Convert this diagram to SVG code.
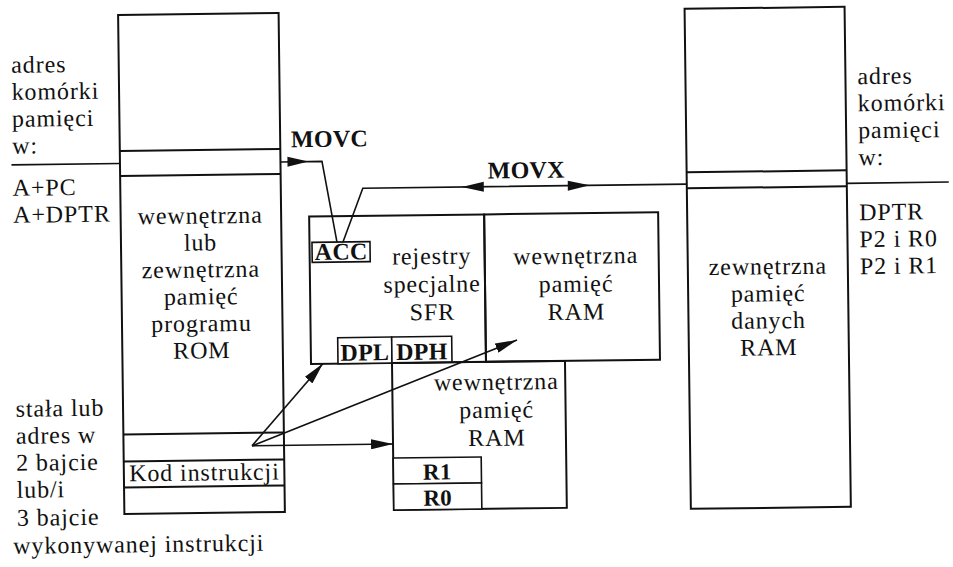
<svg xmlns="http://www.w3.org/2000/svg" width="953" height="567" viewBox="0 0 953 567">
<style>
text{font-family:"Liberation Serif","Times New Roman",serif;font-size:24px;letter-spacing:0.9px;fill:#111}
.b{font-weight:bold;font-size:24px;letter-spacing:0.3px}
.c{text-anchor:middle}
.box{fill:none;stroke:#111;stroke-width:2}
.sub{fill:#fff;stroke:#111;stroke-width:1.6}
.ln{fill:none;stroke:#111;stroke-width:1.6}
.hd{fill:#111;stroke:none}
</style>
<defs>
<marker id="ah" markerUnits="userSpaceOnUse" markerWidth="22" markerHeight="10" refX="22" refY="5" orient="auto"><path d="M0,0 L22,5 L0,10 z" fill="#111"/></marker>
</defs>
<rect width="953" height="567" fill="#fff"/>
<g transform="rotate(-0.72 476 283)">
<g id="labels-left">
<text x="14" y="67">adres</text>
<text x="14" y="94">komórki</text>
<text x="14" y="121">pamięci</text>
<text x="14" y="148">w:</text>
<text x="14" y="190">A+PC</text>
<text x="14" y="217">A+DPTR</text>
<text x="14" y="411">stała lub</text>
<text x="14" y="438">adres w</text>
<text x="14" y="465">2 bajcie</text>
<text x="14" y="492">lub/i</text>
<text x="14" y="520">3 bajcie</text>
<text x="10" y="548">wykonywanej instrukcji</text>
</g>
<g id="labels-right">
<text x="860" y="89">adres</text>
<text x="860" y="116">komórki</text>
<text x="860" y="143">pamięci</text>
<text x="860" y="170">w:</text>
<text x="860" y="225">DPTR</text>
<text x="860" y="252">P2 i R0</text>
<text x="860" y="279">P2 i R1</text>
</g>
<g id="rom">
<rect class="box" x="121.5" y="10.5" width="160.5" height="499"/>
<path class="box" d="M121.5,146.5 H282 M121.5,171.5 H282 M121.5,430 H282 M121.5,457 H282 M121.5,483 H282"/>
<text class="c" x="201" y="220">wewnętrzna</text>
<text class="c" x="201" y="247">lub</text>
<text class="c" x="201" y="274">zewnętrzna</text>
<text class="c" x="201" y="301">pamięć</text>
<text class="c" x="201" y="328">programu</text>
<text class="c" x="201" y="355">ROM</text>
<text class="c" x="202" y="477">Kod instrukcji</text>
</g>
<g id="sfr">
<rect class="box" x="310" y="214.5" width="175" height="147.5"/>
<text class="c" x="432" y="263.5">rejestry</text>
<text class="c" x="432" y="291.5">specjalne</text>
<text class="c" x="432" y="319.5">SFR</text>
</g>
<g id="acc">
<rect class="sub" x="312.5" y="240.3" width="58" height="20"/>
<text class="b c" x="341.5" y="258">ACC</text>
</g>
<g id="dpl">
<rect class="sub" x="337" y="336" width="54" height="26"/>
<text class="b c" x="364" y="359">DPL</text>
</g>
<g id="dph">
<rect class="sub" x="391" y="336" width="60" height="26"/>
<text class="b c" x="421" y="359">DPH</text>
</g>
<g id="iram-upper">
<rect class="box" x="485" y="214.5" width="174" height="147.5"/>
<text class="c" x="576" y="265">wewnętrzna</text>
<text class="c" x="576" y="293">pamięć</text>
<text class="c" x="576" y="321">RAM</text>
</g>
<g id="iram-lower">
<rect class="box" x="391" y="362" width="173" height="147"/>
<text class="c" x="495" y="390">wewnętrzna</text>
<text class="c" x="495" y="418">pamięć</text>
<text class="c" x="495" y="446">RAM</text>
</g>
<g id="r1">
<rect class="sub" x="391" y="457" width="88" height="26"/>
<text class="b c" x="435" y="479" style="font-size:23px">R1</text>
</g>
<g id="r0">
<rect class="sub" x="391" y="483" width="88" height="26"/>
<text class="b c" x="435" y="505" style="font-size:23px">R0</text>
</g>
<g id="xram">
<rect class="box" x="688" y="11.5" width="160" height="500"/>
<path class="box" d="M688,175 H848 M688,191 H848"/>
<text class="c" x="768" y="278">zewnętrzna</text>
<text class="c" x="768" y="305">pamięć</text>
<text class="c" x="768" y="332">danych</text>
<text class="c" x="768" y="359">RAM</text>
</g>
<g id="connectors">
<path class="ln" d="M13,159 H121.5"/>
<path class="ln" d="M848,188 H950"/>
<path class="ln" d="M282,159.5 H323.5 L337.5,240.3"/>
<path class="hd" d="M289,154.5 L310,159.5 L289,164.5 z"/>
<text class="b" x="292.7" y="145">MOVC</text>
<path class="ln" d="M688,186.8 H364 L343.5,240.3"/>
<path class="hd" d="M463,186.8 L485,181.8 L485,191.8 z"/>
<path class="hd" d="M591,186.8 L569,181.8 L569,191.8 z"/>
<text class="b" x="489" y="178.6">MOVX</text>
<path class="ln" d="M250,443 L322,361.5" marker-end="url(#ah)"/>
<path class="ln" d="M250,443 L516.3,340.5" marker-end="url(#ah)"/>
<path class="ln" d="M250,443 H391" marker-end="url(#ah)"/>
</g>
</g>
</svg>
